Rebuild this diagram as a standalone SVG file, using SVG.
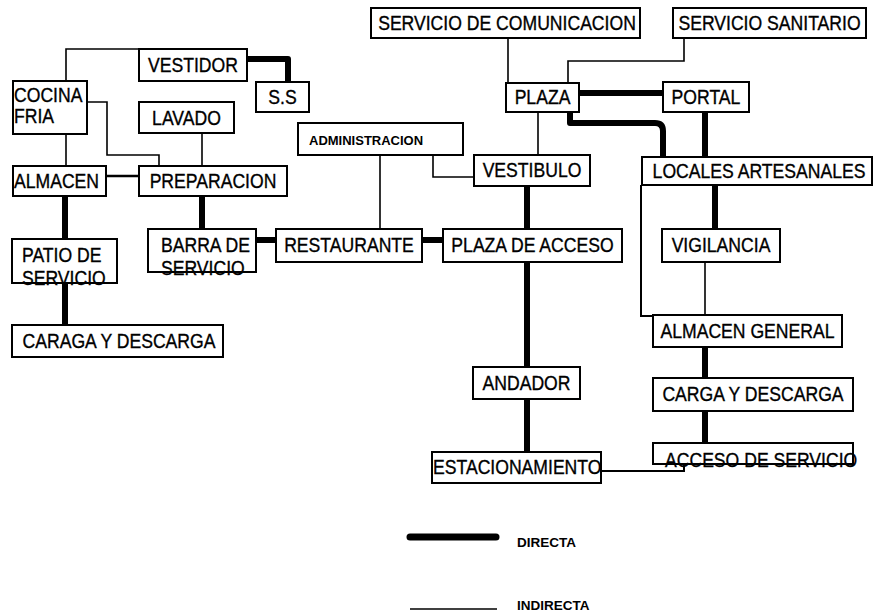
<svg xmlns="http://www.w3.org/2000/svg" width="874" height="614" viewBox="0 0 874 614">
<style>
.box{fill:#fff;stroke:#000;stroke-width:2}
.t{font-family:"Liberation Sans",Arial,sans-serif;font-size:20px;fill:#000;stroke:#000;stroke-width:0.35}
.c{text-anchor:middle}
.b{font-family:"Liberation Sans",Arial,sans-serif;font-weight:bold;fill:#000}
.thin{fill:none;stroke:#000;stroke-width:1.6}
.thick{fill:none;stroke:#000;stroke-width:6;stroke-linejoin:round}
</style>
<rect width="874" height="614" fill="#fff"/>
<g id="connectors">
<path class="thin" d="M66,81V49H139"/>
<path class="thin" d="M87,102H107V155H159V166"/>
<path class="thin" d="M202,133V166"/>
<path class="thin" d="M66,134V166"/>
<path class="thin" style="stroke-width:2.6" d="M106,176H139"/>
<path class="thin" d="M380,155V229"/>
<path class="thin" d="M433,155V177H474"/>
<path class="thin" d="M508,38V83"/>
<path class="thin" d="M684,38V61H568V83"/>
<path class="thin" d="M538,112V155"/>
<path class="thin" style="stroke-width:2" d="M641,185V316H653"/>
<path class="thin" d="M705,262V315"/>
<path class="thin" style="stroke-width:2" d="M601,471H684V464"/>
<path class="thick" d="M247,59H288V82"/>
<path class="thick" d="M65,196V239"/>
<path class="thick" d="M65,283V325"/>
<path class="thick" d="M202,196V229"/>
<path class="thick" d="M256,240H276"/>
<path class="thick" d="M422,240H443"/>
<path class="thick" d="M527,186V229"/>
<path class="thick" d="M527,262V367"/>
<path class="thick" d="M527,399V452"/>
<path class="thick" d="M579,93H663"/>
<path class="thick" d="M570,112V123H655Q663,123 663,131V157"/>
<path class="thick" d="M705,112V157"/>
<path class="thick" d="M715,185V229"/>
<path class="thick" d="M705,347V378"/>
<path class="thick" d="M705,411V443"/>
</g>
<g id="vestidor"><rect class="box" x="139" y="49" width="108" height="32"/><text class="t c" transform="translate(193,72) scale(.88,1)">VESTIDOR</text></g>
<g id="ss"><rect class="box" x="256" y="82" width="53" height="30"/><text class="t c" transform="translate(282.5,104) scale(.88,1)">S.S</text></g>
<g id="cocina-fria"><rect class="box" x="13" y="81" width="74" height="53"/><text class="t" transform="translate(14,102) scale(.88,1)">COCINA</text><text class="t" transform="translate(14,123) scale(.88,1)">FRIA</text></g>
<g id="lavado"><rect class="box" x="139" y="102" width="95" height="31"/><text class="t c" transform="translate(186.5,125) scale(.88,1)">LAVADO</text></g>
<g id="almacen"><rect class="box" x="13" y="166" width="93" height="30"/><text class="t" transform="translate(14,188) scale(.88,1)">ALMACEN</text></g>
<g id="preparacion"><rect class="box" x="139" y="166" width="148" height="30"/><text class="t c" transform="translate(213,188) scale(.88,1)">PREPARACION</text></g>
<g id="patio-servicio"><rect class="box" x="12" y="239" width="105" height="44"/><text class="t" transform="translate(22,262) scale(.88,1)">PATIO DE</text><text class="t" transform="translate(22,285) scale(.88,1)">SERVICIO</text></g>
<g id="caraga-descarga"><rect class="box" x="12" y="325" width="211" height="32"/><text class="t c" transform="translate(119,348) scale(.88,1)">CARAGA Y DESCARGA</text></g>
<g id="barra-servicio"><rect class="box" x="148" y="229" width="108" height="43"/><text class="t" transform="translate(161,252) scale(.88,1)">BARRA DE</text><text class="t" transform="translate(161,275) scale(.88,1)">SERVICIO</text></g>
<g id="restaurante"><rect class="box" x="276" y="229" width="146" height="33"/><text class="t c" transform="translate(349,252) scale(.88,1)">RESTAURANTE</text></g>
<g id="administracion"><rect class="box" x="298" y="123" width="165" height="32"/><text class="b" x="309" y="145" font-size="13">ADMINISTRACION</text></g>
<g id="servicio-comunicacion"><rect class="box" x="371" y="8" width="269" height="30"/><text class="t c" transform="translate(507,30) scale(.88,1)">SERVICIO DE COMUNICACION</text></g>
<g id="servicio-sanitario"><rect class="box" x="673" y="8" width="193" height="30"/><text class="t c" transform="translate(769.5,30) scale(.88,1)">SERVICIO SANITARIO</text></g>
<g id="plaza"><rect class="box" x="506" y="83" width="73" height="29"/><text class="t c" transform="translate(542.5,104) scale(.88,1)">PLAZA</text></g>
<g id="portal"><rect class="box" x="663" y="82" width="86" height="30"/><text class="t c" transform="translate(706,104) scale(.88,1)">PORTAL</text></g>
<g id="vestibulo"><rect class="box" x="474" y="155" width="116" height="31"/><text class="t c" transform="translate(532,177) scale(.88,1)">VESTIBULO</text></g>
<g id="locales-artesanales"><rect class="box" x="642" y="157" width="230" height="28"/><text class="t c" transform="translate(759,178) scale(.88,1)">LOCALES ARTESANALES</text></g>
<g id="plaza-acceso"><rect class="box" x="443" y="229" width="179" height="33"/><text class="t c" transform="translate(532.5,252) scale(.88,1)">PLAZA DE ACCESO</text></g>
<g id="vigilancia"><rect class="box" x="662" y="229" width="118" height="33"/><text class="t c" transform="translate(721,252) scale(.88,1)">VIGILANCIA</text></g>
<g id="almacen-general"><rect class="box" x="653" y="315" width="189" height="32"/><text class="t c" transform="translate(747.5,338) scale(.88,1)">ALMACEN GENERAL</text></g>
<g id="andador"><rect class="box" x="473" y="367" width="107" height="32"/><text class="t c" transform="translate(526.5,390) scale(.88,1)">ANDADOR</text></g>
<g id="carga-descarga"><rect class="box" x="653" y="378" width="200" height="33"/><text class="t c" transform="translate(753,401) scale(.88,1)">CARGA Y DESCARGA</text></g>
<g id="estacionamiento"><rect class="box" x="432" y="452" width="169" height="31"/><text class="t" transform="translate(433,474) scale(.88,1)">ESTACIONAMIENTO</text></g>
<g id="acceso-servicio"><rect class="box" x="653" y="443" width="200" height="21"/><text class="t" transform="translate(665,467) scale(.88,1)">ACCESO DE SERVICIO</text></g>
<g id="legend">
<line x1="410" y1="537" x2="496" y2="537" stroke="#000" stroke-width="7" stroke-linecap="round"/>
<text class="b" x="517" y="547" font-size="13.5">DIRECTA</text>
<line x1="410" y1="609" x2="497" y2="609" stroke="#000" stroke-width="1.6"/>
<text class="b" x="517" y="610" font-size="13.5">INDIRECTA</text>
</g>
</svg>
